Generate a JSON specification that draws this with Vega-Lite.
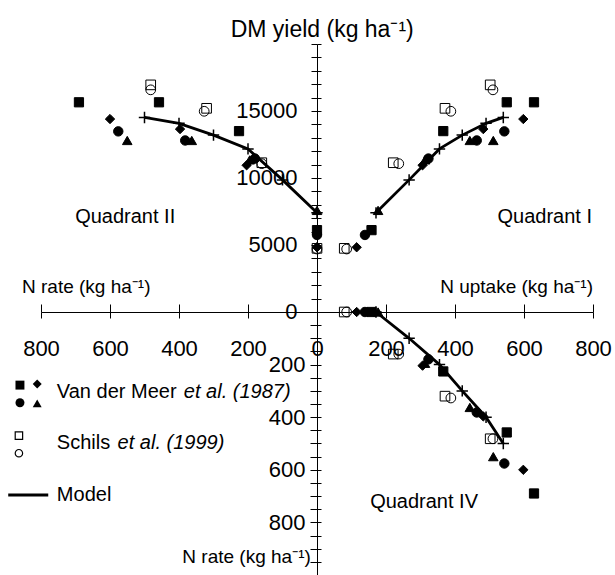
{
  "$schema": "https://vega.github.io/schema/vega-lite/v6.json",
  "autosize": {"type": "none"},
  "padding": {"left": 41, "top": 44, "right": 22, "bottom": 0},
  "background": "white",
  "width": 552,
  "height": 531,
  "config": {
    "view": {"stroke": null},
    "font": "Liberation Sans",
    "text": {"font": "Liberation Sans", "color": "black"},
    "axis": {"labelFont": "Liberation Sans", "labelColor": "black", "tickColor": "black", "domainColor": "black", "grid": false, "labelFontSize": 22, "labelOverlap": false, "labelFlush": false, "tickWidth": 1, "domainWidth": 1}
  },
  "datasets": {
    "obs": [
      {"series": "Schils-a", "rate": 0, "uptake": 79, "yield": 4750},
      {"series": "Schils-a", "rate": 160, "uptake": 221, "yield": 11140},
      {"series": "Schils-a", "rate": 320, "uptake": 371, "yield": 15200},
      {"series": "Schils-a", "rate": 482, "uptake": 502, "yield": 16950},
      {"series": "Schils-c", "rate": 0, "uptake": 86, "yield": 4700},
      {"series": "Schils-c", "rate": 160, "uptake": 237, "yield": 11070},
      {"series": "Schils-c", "rate": 327, "uptake": 388, "yield": 14980},
      {"series": "Schils-c", "rate": 482, "uptake": 510, "yield": 16580},
      {"series": "VdM-a", "rate": 0, "uptake": 158, "yield": 6110},
      {"series": "VdM-a", "rate": 226, "uptake": 366, "yield": 13500},
      {"series": "VdM-a", "rate": 458, "uptake": 550, "yield": 15650},
      {"series": "VdM-a", "rate": 690, "uptake": 629, "yield": 15650},
      {"series": "VdM-b", "rate": 0, "uptake": 115, "yield": 4830},
      {"series": "VdM-b", "rate": 204, "uptake": 306, "yield": 10950},
      {"series": "VdM-b", "rate": 397, "uptake": 482, "yield": 13650},
      {"series": "VdM-b", "rate": 600, "uptake": 598, "yield": 14400},
      {"series": "VdM-c", "rate": 0, "uptake": 139, "yield": 5750},
      {"series": "VdM-c", "rate": 180, "uptake": 323, "yield": 11450},
      {"series": "VdM-c", "rate": 382, "uptake": 463, "yield": 12800},
      {"series": "VdM-c", "rate": 576, "uptake": 543, "yield": 13480},
      {"series": "VdM-d", "rate": 0, "uptake": 177, "yield": 7580},
      {"series": "VdM-d", "rate": 195, "uptake": 313, "yield": 11350},
      {"series": "VdM-d", "rate": 363, "uptake": 443, "yield": 12800},
      {"series": "VdM-d", "rate": 550, "uptake": 511, "yield": 12800}
    ],
    "model": [
      {"rate": 0, "uptake": 171, "yield": 7400},
      {"rate": 100, "uptake": 267, "yield": 9860},
      {"rate": 200, "uptake": 355, "yield": 12170},
      {"rate": 300, "uptake": 421, "yield": 13200},
      {"rate": 400, "uptake": 490, "yield": 14080},
      {"rate": 500, "uptake": 540, "yield": 14520}
    ]
  },
  "resolve": {"scale": {"x": "independent", "y": "independent"}, "axis": {"x": "independent", "y": "independent"}},
  "layer": [
    {
      "encoding": {
        "x": {"field": "rate", "type": "quantitative", "scale": {"domain": [-800, 800], "reverse": true, "nice": false}, "axis": null},
        "y": {"field": "yield", "type": "quantitative", "scale": {"domain": [-19627, 20000], "nice": false, "zero": false}, "axis": null}
      },
      "layer": [
        {"data": {"name": "model"}, "mark": {"type": "line", "color": "black", "strokeWidth": 2.8}},
        {"data": {"name": "model"}, "mark": {"type": "point", "shape": "M-1,0L1,0M0,-1L0,1", "filled": false, "color": "black", "strokeWidth": 1.5, "size": 130, "opacity": 1}},
        {
          "data": {"name": "obs"},
          "mark": {"type": "point", "filled": true, "stroke": "black", "strokeWidth": 1, "opacity": 1},
          "encoding": {
            "shape": {"field": "series", "type": "nominal", "scale": {"domain": ["VdM-a", "VdM-b", "VdM-c", "VdM-d", "Schils-a", "Schils-c"], "range": ["square", "diamond", "circle", "triangle-up", "square", "circle"]}, "legend": null},
            "fill": {"field": "series", "type": "nominal", "scale": {"domain": ["VdM-a", "VdM-b", "VdM-c", "VdM-d", "Schils-a", "Schils-c"], "range": ["black", "black", "black", "black", "transparent", "transparent"]}, "legend": null},
            "size": {"field": "series", "type": "nominal", "scale": {"domain": ["VdM-a", "VdM-b", "VdM-c", "VdM-d", "Schils-a", "Schils-c"], "range": [85, 95, 95, 95, 55, 50]}, "legend": null}
          }
        }
      ]
    },
    {
      "encoding": {
        "x": {"field": "uptake", "type": "quantitative", "scale": {"domain": [-800, 800], "nice": false}, "axis": null},
        "y": {"field": "yield", "type": "quantitative", "scale": {"domain": [-19627, 20000], "nice": false, "zero": false}, "axis": null}
      },
      "layer": [
        {"data": {"name": "model"}, "mark": {"type": "line", "color": "black", "strokeWidth": 2.8}},
        {"data": {"name": "model"}, "mark": {"type": "point", "shape": "M-1,0L1,0M0,-1L0,1", "filled": false, "color": "black", "strokeWidth": 1.5, "size": 130, "opacity": 1}},
        {
          "data": {"name": "obs"},
          "mark": {"type": "point", "filled": true, "stroke": "black", "strokeWidth": 1, "opacity": 1},
          "encoding": {
            "shape": {"field": "series", "type": "nominal", "scale": {"domain": ["VdM-a", "VdM-b", "VdM-c", "VdM-d", "Schils-a", "Schils-c"], "range": ["square", "diamond", "circle", "triangle-up", "square", "circle"]}, "legend": null},
            "fill": {"field": "series", "type": "nominal", "scale": {"domain": ["VdM-a", "VdM-b", "VdM-c", "VdM-d", "Schils-a", "Schils-c"], "range": ["black", "black", "black", "black", "transparent", "transparent"]}, "legend": null},
            "size": {"field": "series", "type": "nominal", "scale": {"domain": ["VdM-a", "VdM-b", "VdM-c", "VdM-d", "Schils-a", "Schils-c"], "range": [85, 95, 95, 95, 55, 50]}, "legend": null}
          }
        }
      ]
    },
    {
      "encoding": {
        "x": {"field": "uptake", "type": "quantitative", "scale": {"domain": [-800, 800], "nice": false}, "axis": null},
        "y": {"field": "rate", "type": "quantitative", "scale": {"domain": [-1019, 1000], "reverse": true, "nice": false, "zero": false}, "axis": null}
      },
      "layer": [
        {"data": {"name": "model"}, "mark": {"type": "line", "color": "black", "strokeWidth": 2.8}},
        {"data": {"name": "model"}, "mark": {"type": "point", "shape": "M-1,0L1,0M0,-1L0,1", "filled": false, "color": "black", "strokeWidth": 1.5, "size": 130, "opacity": 1}},
        {
          "data": {"name": "obs"},
          "mark": {"type": "point", "filled": true, "stroke": "black", "strokeWidth": 1, "opacity": 1},
          "encoding": {
            "shape": {"field": "series", "type": "nominal", "scale": {"domain": ["VdM-a", "VdM-b", "VdM-c", "VdM-d", "Schils-a", "Schils-c"], "range": ["square", "diamond", "circle", "triangle-up", "square", "circle"]}, "legend": null},
            "fill": {"field": "series", "type": "nominal", "scale": {"domain": ["VdM-a", "VdM-b", "VdM-c", "VdM-d", "Schils-a", "Schils-c"], "range": ["black", "black", "black", "black", "transparent", "transparent"]}, "legend": null},
            "size": {"field": "series", "type": "nominal", "scale": {"domain": ["VdM-a", "VdM-b", "VdM-c", "VdM-d", "Schils-a", "Schils-c"], "range": [85, 95, 95, 95, 55, 50]}, "legend": null}
          }
        }
      ]
    },
    {
      "data": {"values": [{}]},
      "layer": [
        {"mark": {"type": "text", "text": "DM yield (kg ha⁻¹)", "fontSize": 23, "align": "center", "baseline": "middle"},
         "encoding": {"x": {"datum": 15, "type": "quantitative", "scale": {"domain": [-800, 800], "nice": false}, "axis": null}, "y": {"datum": 21040, "type": "quantitative", "scale": {"domain": [-19627, 20000], "nice": false, "zero": false}, "axis": null}}},
        {"mark": {"type": "text", "text": "Quadrant II", "fontSize": 20, "align": "left", "baseline": "middle"},
         "encoding": {"x": {"datum": -701, "type": "quantitative", "scale": {"domain": [-800, 800], "nice": false}, "axis": null}, "y": {"datum": 7090, "type": "quantitative", "scale": {"domain": [-19627, 20000], "nice": false, "zero": false}, "axis": null}}},
        {"mark": {"type": "text", "text": "Quadrant I", "fontSize": 20, "align": "right", "baseline": "middle"},
         "encoding": {"x": {"datum": 797, "type": "quantitative", "scale": {"domain": [-800, 800], "nice": false}, "axis": null}, "y": {"datum": 7090, "type": "quantitative", "scale": {"domain": [-19627, 20000], "nice": false, "zero": false}, "axis": null}}},
        {"mark": {"type": "text", "text": "N rate (kg ha⁻¹)", "fontSize": 19, "align": "left", "baseline": "middle"},
         "encoding": {"x": {"datum": -855, "type": "quantitative", "scale": {"domain": [-800, 800], "nice": false}, "axis": null}, "y": {"datum": 1870, "type": "quantitative", "scale": {"domain": [-19627, 20000], "nice": false, "zero": false}, "axis": null}}},
        {"mark": {"type": "text", "text": "N uptake (kg ha⁻¹)", "fontSize": 19, "align": "right", "baseline": "middle"},
         "encoding": {"x": {"datum": 800, "type": "quantitative", "scale": {"domain": [-800, 800], "nice": false}, "axis": null}, "y": {"datum": 1870, "type": "quantitative", "scale": {"domain": [-19627, 20000], "nice": false, "zero": false}, "axis": null}}}
      ]
    },
    {
      "data": {"values": [{}]},
      "encoding": {
        "x": {"datum": 0, "type": "quantitative", "scale": {"domain": [-800, 800], "nice": false}, "axis": null},
        "y": {"datum": 0, "type": "quantitative", "scale": {"domain": [-1019, 1000], "reverse": true, "nice": false, "zero": false}, "axis": null}
      },
      "layer": [
        {"mark": {"type": "text", "text": "Quadrant IV", "fontSize": 20, "align": "left", "baseline": "middle"},
         "encoding": {"x": {"datum": 154, "type": "quantitative", "axis": null}, "y": {"datum": 721, "type": "quantitative", "axis": null}}},
        {"mark": {"type": "text", "text": "N rate (kg ha⁻¹)", "fontSize": 19, "align": "right", "baseline": "middle"},
         "encoding": {"x": {"datum": -18, "type": "quantitative", "axis": null}, "y": {"datum": 930, "type": "quantitative", "axis": null}}},
        {"mark": {"type": "point", "shape": "square", "filled": true, "color": "black", "size": 80, "opacity": 1},
         "encoding": {"x": {"datum": -861, "type": "quantitative", "axis": null}, "y": {"datum": 278, "type": "quantitative", "axis": null}}},
        {"mark": {"type": "point", "shape": "diamond", "filled": true, "color": "black", "size": 80, "opacity": 1},
         "encoding": {"x": {"datum": -811, "type": "quantitative", "axis": null}, "y": {"datum": 274, "type": "quantitative", "axis": null}}},
        {"mark": {"type": "point", "shape": "circle", "filled": true, "color": "black", "size": 80, "opacity": 1},
         "encoding": {"x": {"datum": -861, "type": "quantitative", "axis": null}, "y": {"datum": 345, "type": "quantitative", "axis": null}}},
        {"mark": {"type": "point", "shape": "triangle-up", "filled": true, "color": "black", "size": 80, "opacity": 1},
         "encoding": {"x": {"datum": -811, "type": "quantitative", "axis": null}, "y": {"datum": 347, "type": "quantitative", "axis": null}}},
        {"mark": {"type": "text", "text": "Van der Meer", "fontSize": 20, "align": "left", "baseline": "middle"},
         "encoding": {"x": {"datum": -754, "type": "quantitative", "axis": null}, "y": {"datum": 303, "type": "quantitative", "axis": null}}},
        {"mark": {"type": "text", "text": "et al. (1987)", "fontSize": 20, "fontStyle": "italic", "align": "left", "baseline": "middle"},
         "encoding": {"x": {"datum": -386, "type": "quantitative", "axis": null}, "y": {"datum": 303, "type": "quantitative", "axis": null}}},
        {"mark": {"type": "point", "shape": "square", "filled": false, "color": "black", "strokeWidth": 1.2, "size": 55, "opacity": 1},
         "encoding": {"x": {"datum": -864, "type": "quantitative", "axis": null}, "y": {"datum": 470, "type": "quantitative", "axis": null}}},
        {"mark": {"type": "point", "shape": "circle", "filled": false, "color": "black", "strokeWidth": 1.2, "size": 55, "opacity": 1},
         "encoding": {"x": {"datum": -864, "type": "quantitative", "axis": null}, "y": {"datum": 537, "type": "quantitative", "axis": null}}},
        {"mark": {"type": "text", "text": "Schils", "fontSize": 20, "align": "left", "baseline": "middle"},
         "encoding": {"x": {"datum": -754, "type": "quantitative", "axis": null}, "y": {"datum": 499, "type": "quantitative", "axis": null}}},
        {"mark": {"type": "text", "text": "et al. (1999)", "fontSize": 20, "fontStyle": "italic", "align": "left", "baseline": "middle"},
         "encoding": {"x": {"datum": -578, "type": "quantitative", "axis": null}, "y": {"datum": 499, "type": "quantitative", "axis": null}}},
        {"mark": {"type": "rule", "color": "black", "strokeWidth": 3},
         "encoding": {"x": {"datum": -895, "type": "quantitative", "axis": null}, "x2": {"datum": -779}, "y": {"datum": 696, "type": "quantitative", "axis": null}}},
        {"mark": {"type": "text", "text": "Model", "fontSize": 20, "align": "left", "baseline": "middle"},
         "encoding": {"x": {"datum": -754, "type": "quantitative", "axis": null}, "y": {"datum": 696, "type": "quantitative", "axis": null}}}
      ]
    },
    {
      "data": {"values": [{}]},
      "mark": {"type": "point", "opacity": 0},
      "encoding": {
        "x": {"datum": 0, "type": "quantitative", "scale": {"domain": [-800, 800], "nice": false},
              "axis": {"orient": "bottom", "offset": -263, "values": [-800, -600, -400, -200, 0, 200, 400, 600, 800], "labelExpr": "format(abs(datum.value), 'd')", "tickSize": 6, "labelPadding": 20, "domain": true, "title": null, "labelFontSize": 22}},
        "y": {"datum": 0, "type": "quantitative", "scale": {"domain": [-19627, 20000], "nice": false, "zero": false},
              "axis": {"orient": "left", "offset": -276, "values": [0, 1000, 2000, 3000, 4000, 5000, 6000, 7000, 8000, 9000, 10000, 11000, 12000, 13000, 14000, 15000, 16000, 17000, 18000, 19000, 20000], "labelExpr": "datum.value % 5000 == 0 && datum.value < 20000 ? format(datum.value, 'd') : ''", "tickSize": 6, "labelPadding": 14, "domain": true, "title": null, "labelFontSize": 22, "labelBaseline": "middle"}}
      }
    },
    {
      "data": {"values": [{}]},
      "mark": {"type": "point", "opacity": 0},
      "encoding": {
        "x": {"datum": 0, "type": "quantitative", "scale": {"domain": [-800, 800], "nice": false},
              "axis": {"orient": "top", "offset": -268, "values": [-800, -600, -400, -200, 200, 400, 600, 800], "labels": false, "tickSize": 8, "domain": false, "title": null}},
        "y": {"datum": 0, "type": "quantitative", "scale": {"domain": [-19627, 20000], "nice": false, "zero": false},
              "axis": {"orient": "right", "offset": -276, "values": [0, 1000, 2000, 3000, 4000, 5000, 6000, 7000, 8000, 9000, 10000, 11000, 12000, 13000, 14000, 15000, 16000, 17000, 18000, 19000, 20000], "labels": false, "tickSize": 4, "domain": false, "title": null}}
      }
    },
    {
      "data": {"values": [{}]},
      "mark": {"type": "point", "opacity": 0},
      "encoding": {
        "x": {"datum": 0, "type": "quantitative", "scale": {"domain": [-800, 800], "nice": false}, "axis": null},
        "y": {"datum": 0, "type": "quantitative", "scale": {"domain": [-1019, 1000], "reverse": true, "nice": false, "zero": false},
              "axis": {"orient": "left", "offset": -276, "values": [50, 100, 150, 200, 250, 300, 350, 400, 450, 500, 550, 600, 650, 700, 750, 800, 850, 900, 950, 1000], "labelExpr": "datum.value % 200 == 0 && datum.value < 1000 ? format(datum.value, 'd') : ''", "tickSize": 7, "labelPadding": 5, "domain": false, "title": null, "labelFontSize": 22, "labelBaseline": "middle"}}
      }
    },
    {
      "data": {"values": [{}]},
      "mark": {"type": "point", "opacity": 0},
      "encoding": {
        "x": {"datum": 0, "type": "quantitative", "scale": {"domain": [-800, 800], "nice": false}, "axis": null},
        "y": {"datum": 0, "type": "quantitative", "scale": {"domain": [-1019, 1000], "reverse": true, "nice": false, "zero": false},
              "axis": {"orient": "right", "offset": -276, "values": [50, 100, 150, 200, 250, 300, 350, 400, 450, 500, 550, 600, 650, 700, 750, 800, 850, 900, 950, 1000], "labels": false, "tickSize": 4, "domain": false, "title": null}}
      }
    }
  ]
}
